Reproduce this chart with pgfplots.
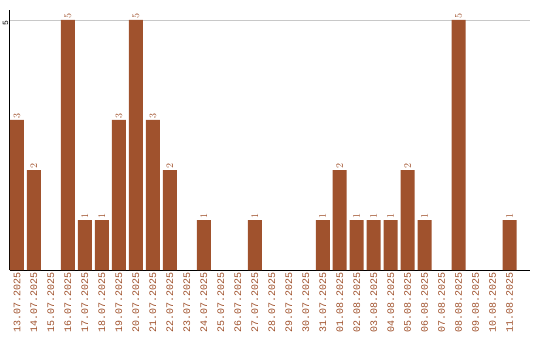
\documentclass[border=0pt]{standalone}
\usepackage{pgfplots}
\pgfplotsset{compat=1.18}
\usepackage{fontspec}
\setmainfont{Liberation Mono}
\definecolor{barc}{RGB}{160,82,45}
\definecolor{gridc}{RGB}{200,200,200}
\begin{document}
\begin{tikzpicture}
\useasboundingbox (-10pt,-70pt) rectangle (530pt,270pt);
\begin{axis}[
  at={(0pt,0pt)}, anchor=south west,
  scale only axis, width=520pt, height=260pt,
  axis lines*=left,
  axis line style={black, line width=1pt, -},
  xmin=-0.41, xmax=30.2, ymin=0, ymax=5.2,
  ytick={5}, yticklabels={5},
  ymajorgrids, grid style={gridc, line width=0.8pt},
  yticklabel style={yshift=-3pt, rotate=90, anchor=south, font=\fontsize{8}{8}\selectfont, black, inner sep=1.5pt},
  xtick={0,...,29},
  xticklabels={13.07.2025,14.07.2025,15.07.2025,16.07.2025,17.07.2025,18.07.2025,19.07.2025,20.07.2025,21.07.2025,22.07.2025,23.07.2025,24.07.2025,25.07.2025,26.07.2025,27.07.2025,28.07.2025,29.07.2025,30.07.2025,31.07.2025,01.08.2025,02.08.2025,03.08.2025,04.08.2025,05.08.2025,06.08.2025,07.08.2025,08.08.2025,09.08.2025,10.08.2025,11.08.2025},
  xticklabel style={rotate=90, anchor=east, font=\fontsize{10}{10}\selectfont, text=barc, inner sep=2pt},
  major tick length=0pt,
  tick style={draw=none},
  ybar, bar width=14pt, bar shift=0pt,
  nodes near coords,
  every node near coord/.append style={rotate=90, anchor=west, font=\fontsize{10}{10}\selectfont, text=barc, inner sep=1pt},
  clip=false,
]
\addplot[fill=barc, draw=none] coordinates {
(0,3) (1,2) (3,5) (4,1) (5,1) (6,3) (7,5) (8,3) (9,2) (11,1) (14,1) (18,1) (19,2) (20,1) (21,1) (22,1) (23,2) (24,1) (26,5) (29,1)
};
\end{axis}
\end{tikzpicture}
\end{document}
